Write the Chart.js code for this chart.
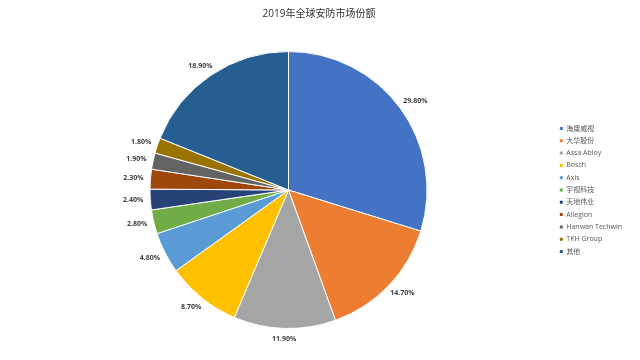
<!DOCTYPE html>
<html>
<head>
<meta charset="utf-8">
<script src="https://cdn.jsdelivr.net/npm/chart.js@4.4.1/dist/chart.umd.min.js"></script>
<style>
  body { margin: 0; background: #fff; }
  #wrap { width: 640px; height: 360px; }
</style>
</head>
<body>
<div id="wrap"><canvas id="pieChart"></canvas></div>
<script>
const chartTitle = "2019年全球安防市场份额";
const companies = ["海康威视", "大华股份", "Assa Abloy", "Bosch", "Axis", "宇视科技", "天地伟业", "Allegion", "Hanwan Techwin", "TKH Group", "其他"];
const shares = [29.8, 14.7, 11.9, 8.7, 4.8, 2.8, 2.4, 2.3, 1.9, 1.8, 18.9];
const colors = ["#4472C4", "#ED7D31", "#A5A5A5", "#FFC000", "#5B9BD5", "#70AD47", "#264478", "#9E480E", "#636363", "#997300", "#255E91"];

const FONT = "'Open Sans', 'Noto Sans CJK SC', sans-serif";

// title centred on the whole picture, not on the plot area
const pageTitle = {
    id: "pageTitle",
    afterDraw(chart) {
        const ctx = chart.ctx;
        ctx.save();
        ctx.font = "10px " + FONT;
        ctx.fillStyle = "#333333";
        ctx.textAlign = "center";
        ctx.textBaseline = "middle";
        ctx.fillText(chartTitle, 319, 14);
        ctx.restore();
    }
};

// percentage labels just outside each slice
const outsideLabels = {
    id: "outsideLabels",
    afterDatasetsDraw(chart) {
        const ctx = chart.ctx;
        const meta = chart.getDatasetMeta(0);
        ctx.save();
        ctx.font = "bold 7px " + FONT;
        ctx.fillStyle = "#404040";
        ctx.textAlign = "center";
        ctx.textBaseline = "middle";
        meta.data.forEach((arc, i) => {
            const p = arc.getProps(["x", "y", "startAngle", "endAngle", "outerRadius"], true);
            const mid = (p.startAngle + p.endAngle) / 2;
            const txt = shares[i].toFixed(2) + "%";
            const w = ctx.measureText(txt).width;
            const r = p.outerRadius + 7;
            const x = p.x + Math.cos(mid) * r + Math.cos(mid) * w / 2;
            const y = p.y + Math.sin(mid) * r + Math.sin(mid) * 4;
            ctx.fillText(txt, x, y);
        });
        ctx.restore();
    }
};

new Chart(document.getElementById("pieChart"), {
    type: "pie",
    data: {
        labels: companies,
        datasets: [{
            data: shares,
            backgroundColor: colors,
            borderColor: "#ffffff",
            borderWidth: 1
        }]
    },
    options: {
        responsive: true,
        maintainAspectRatio: false,
        animation: false,
        layout: {
            padding: { left: 22.5, right: 8, top: 51, bottom: 31 }
        },
        plugins: {
            legend: {
                position: "right",
                labels: {
                    boxWidth: 3,
                    boxHeight: 3,
                    padding: 5.3,
                    color: "#595959",
                    font: { family: FONT, size: 7 },
                    generateLabels(chart) {
                        const items = Chart.overrides.pie.plugins.legend.labels.generateLabels(chart);
                        items.forEach(it => { it.lineWidth = 0; });
                        return items;
                    }
                }
            },
            tooltip: { enabled: false }
        }
    },
    plugins: [outsideLabels, pageTitle]
});
</script>
</body>
</html>
